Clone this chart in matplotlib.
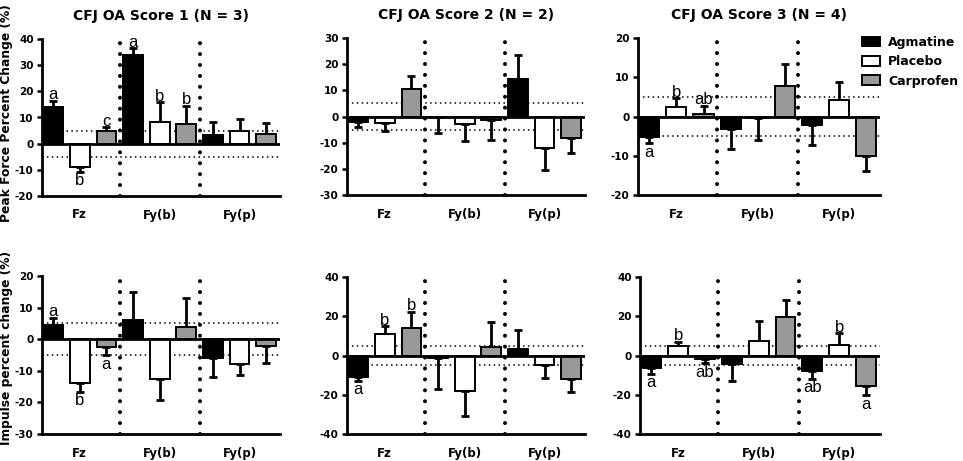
import matplotlib
matplotlib.use("Agg")
import numpy as np
from matplotlib import pyplot as plt
from matplotlib.patches import Patch

plt.rcParams['font.family'] = ['DejaVu Sans']
plt.rcParams['font.weight'] = 'bold'
plt.rcParams['axes.unicode_minus'] = False

# categories and treatments
categories = ['Fz', 'Fy(b)', 'Fy(p)']
treatments = ['Agmatine', 'Placebo', 'Carprofen']
titles = ['CFJ OA Score 1 (N = 3)', 'CFJ OA Score 2 (N = 2)', 'CFJ OA Score 3 (N = 4)']

# values ordered Fz(Ag, Pl, Ca), Fy(b)(Ag, Pl, Ca), Fy(p)(Ag, Pl, Ca)
peak1_mean = [13.9, -8.8, 4.9, 33.7, 8.1, 7.4, 3.4, 5.0, 3.8]
peak1_err = [2.5, 1.9, 1.4, 2.8, 7.7, 7.0, 4.8, 4.5, 4.0]
peak1_letters = ['a', 'b', 'c', 'a', 'b', 'b', '', '', '']

peak2_mean = [-2.0, -2.3, 10.5, -0.3, -2.9, -1.3, 14.4, -12.2, -8.1]
peak2_err = [2.2, 3.2, 5.1, 6.1, 6.5, 7.7, 9.2, 8.1, 5.7]
peak2_letters = ['', '', '', '', '', '', '', '', '']

peak3_mean = [-5.1, 2.4, 0.7, -3.1, -0.3, 7.7, -2.1, 4.3, -10.0]
peak3_err = [1.7, 2.2, 2.0, 5.1, 5.7, 5.7, 5.2, 4.6, 4.0]
peak3_letters = ['a', 'b', 'ab', '', '', '', '', '', '']

imp1_mean = [4.6, -14.0, -2.4, 6.2, -12.7, 3.9, -5.8, -7.7, -2.2]
imp1_err = [2.1, 2.6, 2.7, 8.7, 6.6, 9.2, 6.1, 3.5, 5.3]
imp1_letters = ['a', 'b', 'a', '', '', '', '', '', '']

imp2_mean = [-10.8, 11.2, 14.1, -1.5, -18.0, 4.4, 3.2, -4.6, -11.9]
imp2_err = [2.1, 3.7, 8.1, 15.8, 12.8, 12.7, 9.7, 6.8, 6.9]
imp2_letters = ['a', 'b', 'b', '', '', '', '', '', '']

imp3_mean = [-6.4, 4.9, -1.9, -4.2, 7.6, 19.7, -8.1, 5.1, -15.3]
imp3_err = [2.9, 2.2, 2.0, 8.9, 9.9, 8.4, 3.9, 6.2, 4.9]
imp3_letters = ['a', 'b', 'ab', '', '', '', 'ab', 'b', 'a']

colors = ['black', 'white', '#999999']

panels = [
    (peak1_mean, peak1_err, peak1_letters, (-20, 40, 10)),
    (peak2_mean, peak2_err, peak2_letters, (-30, 30, 10)),
    (peak3_mean, peak3_err, peak3_letters, (-20, 20, 10)),
    (imp1_mean, imp1_err, imp1_letters, (-30, 20, 10)),
    (imp2_mean, imp2_err, imp2_letters, (-40, 40, 20)),
    (imp3_mean, imp3_err, imp3_letters, (-40, 40, 20)),
]

# axes rectangles in pixels (left, top, width, height)
W, H = 963, 461
rects = [
    (42, 39, 238, 157), (347, 38, 238, 157), (638, 38, 242, 157),
    (42, 276, 238, 158), (347, 277, 238, 157), (640, 277, 240, 157),
]

fig = plt.figure(figsize=(9.63, 4.61), dpi=100)


def draw_panel(ax, mean, err, letters, ylims):
    lo, hi, step = ylims
    n = len(mean)
    x = np.arange(n)
    mean = np.array(mean)
    err = np.array(err)
    bar_colors = [colors[i % 3] for i in range(n)]

    # reference lines at +/- 5 %
    ax.axhline(5, color='black', lw=1.1, ls=(0, (1, 2.2)), zorder=1)
    ax.axhline(-5, color='black', lw=1.1, ls=(0, (1, 2.2)), zorder=1)

    # one sided error bars in the direction of the bar
    lower = np.where(mean < 0, err, 0)
    upper = np.where(mean >= 0, err, 0)
    ax.errorbar(x, mean, yerr=[lower, upper], fmt='none', ecolor='black',
                elinewidth=2.0, capsize=3, capthick=2.0, zorder=2)
    ax.bar(x, mean, width=0.74, color=bar_colors, edgecolor='black', linewidth=1.4, zorder=3)

    # group dividers
    for xd in [2.5, 5.5]:
        ax.plot([xd, xd], [lo, hi], color='black', lw=2.9, ls=(0, (0.01, 2.7)),
                dash_capstyle='round', zorder=4, clip_on=False)

    ax.axhline(0, color='black', lw=2.0, zorder=5)

    # significance letters
    for xi, m, e, lab in zip(x, mean, err, letters):
        if not lab:
            continue
        if m >= 0:
            ax.annotate(lab, (xi, m + e), xytext=(0, -1), textcoords='offset points',
                        ha='center', va='bottom', fontsize=12, fontweight='normal',
                        family='Liberation Sans')
        else:
            ax.annotate(lab, (xi, m - e), xytext=(0, -1), textcoords='offset points',
                        ha='center', va='top', fontsize=12, fontweight='normal',
                        family='Liberation Sans')

    ax.set_xlim(-0.42, 8.52)
    ax.set_ylim(lo, hi)
    ax.set_yticks(np.arange(lo, hi + 1, step))
    ax.set_xticks([1, 4, 7])
    ax.set_xticklabels(categories)
    ax.tick_params(axis='x', length=0, pad=9, labelsize=8.5)
    ax.tick_params(axis='y', length=3.5, width=1.8, labelsize=7.5, pad=2.5)
    for spine in ['top', 'right']:
        ax.spines[spine].set_visible(False)
    for spine in ['left', 'bottom']:
        ax.spines[spine].set_linewidth(2.0)


for i, (rect, panel) in enumerate(zip(rects, panels)):
    l, t, w, h = rect
    ax = fig.add_axes([l / W, 1 - (t + h) / H, w / W, h / H])
    draw_panel(ax, *panel)
    if i < 3:
        ax.set_title(titles[i], fontsize=10, fontweight='bold', pad=14)

fig.text(7 / W, 1 - 113 / H, 'Peak Force Percent Change (%)', rotation=90,
         ha='center', va='center', fontsize=8.8, fontweight='bold')
fig.text(7 / W, 1 - 348 / H, 'Impulse percent change (%)', rotation=90,
         ha='center', va='center', fontsize=8.8, fontweight='bold')

handles = [Patch(facecolor=c, edgecolor='black', linewidth=1.4) for c in colors]
fig.legend(handles, treatments, loc='upper left', bbox_to_anchor=(857 / W, 1 - 31 / H),
           frameon=False, fontsize=9, handlelength=1.4, handleheight=0.8,
           handletextpad=0.7, labelspacing=0.5, borderaxespad=0)

plt.savefig('out.png', dpi=100)
plt.close()
